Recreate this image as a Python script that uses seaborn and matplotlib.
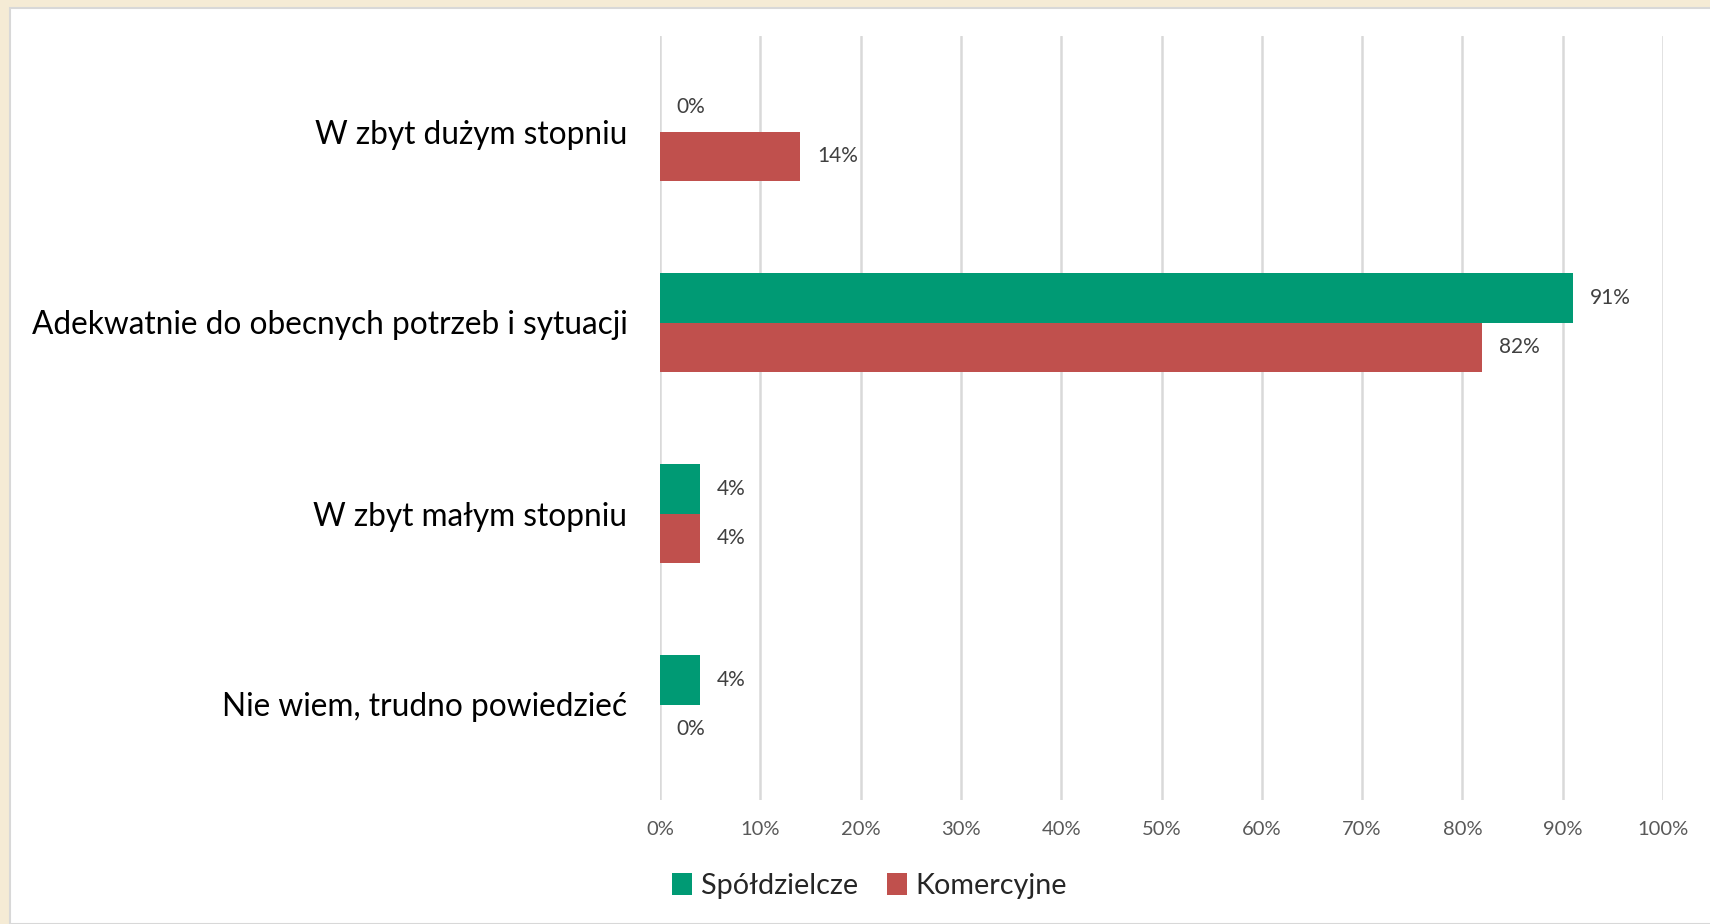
import numpy as np
import pandas as pd
import matplotlib
matplotlib.use("Agg")
import matplotlib.pyplot as plt
import seaborn as sns
from matplotlib.patches import Rectangle
from matplotlib.ticker import PercentFormatter

# data
categories = ["W zbyt dużym stopniu",
              "Adekwatnie do obecnych potrzeb i sytuacji",
              "W zbyt małym stopniu",
              "Nie wiem, trudno powiedzieć"]
spoldzielcze = [0, 91, 4, 4]
komercyjne = [14, 82, 4, 0]
series = ["Spółdzielcze", "Komercyjne"]
colors = ["#009A74", "#C0504D"]

df = pd.DataFrame({
    "kategoria": categories * 2,
    "wartosc": spoldzielcze + komercyjne,
    "bank": [series[0]] * 4 + [series[1]] * 4,
})

sns.set_style("white")
plt.rcParams["font.family"] = ["Lato", "DejaVu Sans"]

fig = plt.figure(figsize=(17.1, 9.24), dpi=100)
fig.patch.set_facecolor("#F5EBD5")
# white panel over the beige background
fig.patches.append(Rectangle((10 / 1710, 0), 1, 1 - 8 / 924, transform=fig.transFigure,
                             facecolor="white", edgecolor="#D8D8D8", lw=1.5, zorder=-10))

ax = fig.add_axes([660 / 1710, 1 - 800 / 924, (1663 - 660) / 1710, (800 - 36) / 924])
ax.set_facecolor("none")

sns.barplot(data=df, y="kategoria", x="wartosc", hue="bank", order=categories,
            hue_order=series, palette=colors, orient="h", width=0.52,
            saturation=1, ax=ax, legend=True, edgecolor="none")

for cont in ax.containers:
    ax.bar_label(cont, fmt="%.0f%%", padding=12, fontsize=15, color="#404040")

ax.set_xlim(0, 100)
ax.set_xticks(np.arange(0, 101, 10))
ax.xaxis.set_major_formatter(PercentFormatter(decimals=0))
ax.grid(axis="x", color="#D9D9D9", lw=1.8)
ax.set_axisbelow(True)
for s in ax.spines.values():
    s.set_visible(False)
ax.tick_params(axis="x", length=0, pad=15, labelsize=14.5, labelcolor="#595959")
ax.tick_params(axis="y", length=0, pad=23.5, labelsize=22.8, labelcolor="black")
ax.set_xlabel("")
ax.set_ylabel("")

ax.legend(loc="center", bbox_to_anchor=(0.209, -0.113), ncol=2, frameon=False,
          fontsize=20.7, handlelength=0.7, handleheight=0.8, handletextpad=0.3,
          columnspacing=1.0)

fig.savefig("out.png", dpi=100, facecolor=fig.get_facecolor())
